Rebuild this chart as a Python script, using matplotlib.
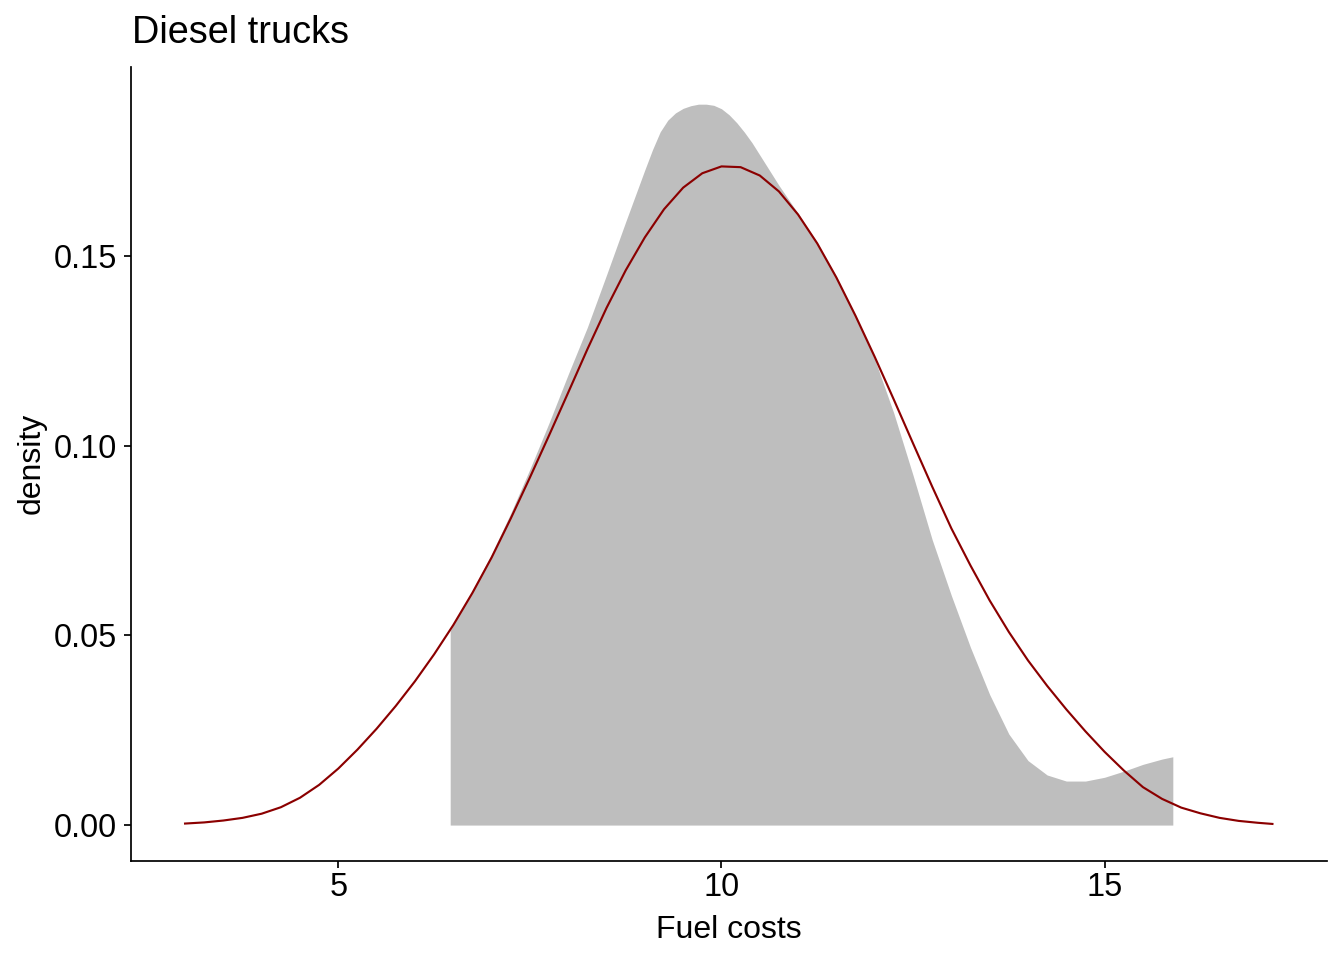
import matplotlib
matplotlib.use("Agg")
import matplotlib.pyplot as plt

plt.rcParams['font.family'] = ['Liberation Sans', 'DejaVu Sans']

# kernel density of the fuel costs (grey area)
dens_x = [6.46, 6.75, 7.0, 7.25, 7.5, 7.75, 8.0, 8.25, 8.5, 8.75, 9.0, 9.1,
          9.2, 9.3, 9.4, 9.5, 9.6, 9.7, 9.8, 9.9, 10.0, 10.1, 10.2, 10.3,
          10.4, 10.5, 10.75, 11.0, 11.25, 11.5, 11.75, 12.0, 12.25, 12.5,
          12.75, 13.0, 13.25, 13.5, 13.75, 14.0, 14.25, 14.5, 14.75, 15.0,
          15.25, 15.5, 15.75, 15.89]
dens_y = [0.0512, 0.0618, 0.0715, 0.0822, 0.0938, 0.1060, 0.1188, 0.1312,
          0.1450, 0.1590, 0.1727, 0.1780, 0.1827, 0.1858, 0.1877, 0.1889,
          0.1896, 0.1900, 0.1900, 0.1897, 0.1888, 0.1872, 0.1851, 0.1826,
          0.1798, 0.1766, 0.1686, 0.1612, 0.1535, 0.1445, 0.1343, 0.1228,
          0.1085, 0.0922, 0.0752, 0.0605, 0.0468, 0.0344, 0.0240, 0.0170,
          0.0132, 0.0116, 0.0116, 0.0126, 0.0142, 0.0160, 0.0174, 0.0180]

# reference curve (dark red)
curve_x = [3.0, 3.25, 3.5, 3.75, 4.0, 4.25, 4.5, 4.75, 5.0, 5.25, 5.5, 5.75,
           6.0, 6.25, 6.5, 6.75, 7.0, 7.25, 7.5, 7.75, 8.0, 8.25, 8.5, 8.75,
           9.0, 9.25, 9.5, 9.75, 10.0, 10.25, 10.5, 10.75, 11.0, 11.25, 11.5,
           11.75, 12.0, 12.25, 12.5, 12.75, 13.0, 13.25, 13.5, 13.75, 14.0,
           14.25, 14.5, 14.75, 15.0, 15.25, 15.5, 15.75, 16.0, 16.25, 16.5,
           16.75, 17.0, 17.19]
curve_y = [0.0004, 0.0007, 0.0012, 0.0019, 0.0030, 0.0047, 0.0072, 0.0106,
           0.0149, 0.0199, 0.0254, 0.0314, 0.0379, 0.0450, 0.0527, 0.0612,
           0.0705, 0.0808, 0.0916, 0.1027, 0.1140, 0.1254, 0.1363, 0.1462,
           0.1549, 0.1623, 0.1680, 0.1718, 0.1736, 0.1734, 0.1712, 0.1670,
           0.1609, 0.1533, 0.1443, 0.1342, 0.1234, 0.1121, 0.1006, 0.0892,
           0.0782, 0.0684, 0.0592, 0.0509, 0.0434, 0.0367, 0.0305, 0.0247,
           0.0193, 0.0144, 0.0100, 0.0069, 0.0046, 0.0031, 0.0019, 0.0011,
           0.0006, 0.0003]

x_ticks = [5, 10, 15]
y_ticks = [0.0, 0.05, 0.10, 0.15]
y_labels = ["0.00", "0.05", "0.10", "0.15"]

fig = plt.figure(figsize=(7, 5), dpi=192)
ax = fig.add_axes([0.0975, 0.1034, 0.8899, 0.8272])

ax.fill_between(dens_x, 0, dens_y, color='#BEBEBE', linewidth=0)
ax.plot(curve_x, curve_y, color='#8B0000', linewidth=0.8,
        solid_joinstyle='round')

ax.set_xlim(2.295, 17.903)
ax.set_ylim(-0.0094, 0.1999)
ax.set_xticks(x_ticks)
ax.set_xticklabels([str(t) for t in x_ticks])
ax.set_yticks(y_ticks)
ax.set_yticklabels(y_labels)

for s in ['top', 'right']:
    ax.spines[s].set_visible(False)
for s in ['left', 'bottom']:
    ax.spines[s].set_linewidth(0.65)
ax.tick_params(axis='both', length=2.6, width=0.65, labelsize=12.2, colors='black')
ax.tick_params(axis='x', pad=1.5)
ax.tick_params(axis='y', pad=2.6)

fig.text(132 / 1344, 1 - 43.3 / 960, "Diesel trucks", fontsize=14.2,
         ha='left', va='baseline')
fig.text(729 / 1344, 1 - 938 / 960, "Fuel costs", fontsize=12,
         ha='center', va='baseline')
fig.text(32 / 1344, 1 - 463 / 960, "density", fontsize=12, rotation=90,
         ha='center', va='center')

fig.savefig("out.png", dpi=192)
